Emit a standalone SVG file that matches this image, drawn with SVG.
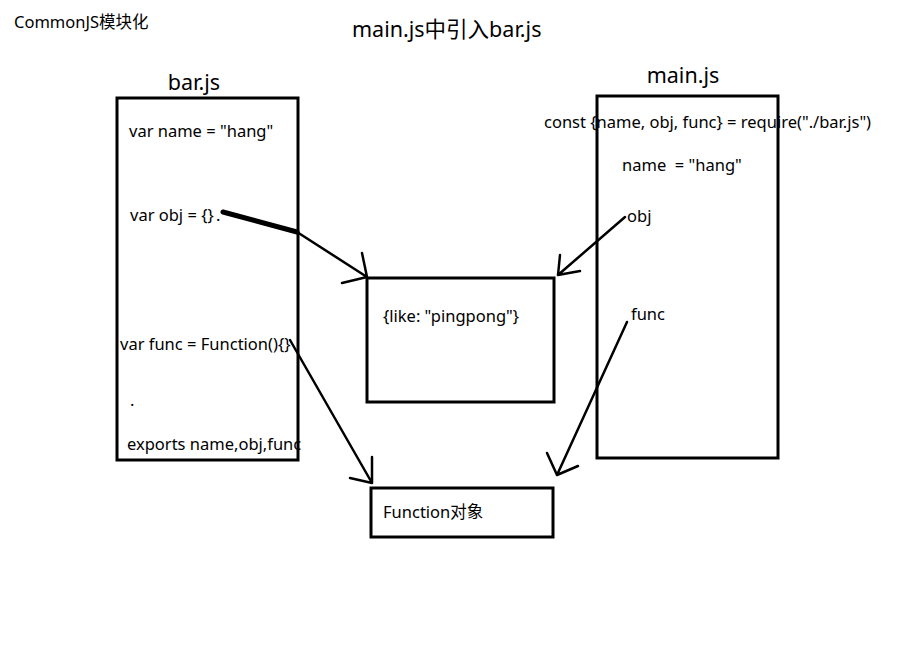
<svg xmlns="http://www.w3.org/2000/svg" width="919" height="658" viewBox="0 0 919 658">
<style>
text{font-family:"Noto Sans","Noto Sans CJK SC",sans-serif;fill:#000;font-size:16.5px;white-space:pre}
.t{font-size:21.5px}
.box{fill:none;stroke:#000;stroke-width:3}
.ln{fill:none;stroke:#000;stroke-width:2.5;stroke-linecap:round;stroke-linejoin:round}
</style>
<rect width="919" height="658" fill="#fff"/>
<text x="14" y="28">CommonJS模块化</text>
<text class="t" x="352" y="37">main.js中引入bar.js</text>
<g id="bar">
<text class="t" x="194" y="90" text-anchor="middle">bar.js</text>
<rect class="box" x="117" y="98" width="181" height="362"/>
<text x="129" y="137">var name = "hang"</text>
<text x="130" y="221">var obj = {}</text>
<text x="216" y="221" font-size="8">.</text>
<text x="120" y="350">var func = Function(){}</text>
<text x="130" y="406" font-size="8">.</text>
<text x="127" y="450">exports name,obj,func</text>
</g>
<g id="main">
<text class="t" x="683" y="83" text-anchor="middle">main.js</text>
<text x="544" y="128">const {name, obj, func} = require("./bar.js")</text>
<text x="622" y="171">name  = "hang"</text>
<text x="627" y="222">obj</text>
<text x="631" y="320">func</text>
<rect class="box" x="597" y="96" width="181" height="362"/>
</g>
<g id="obj">
<rect class="box" x="367" y="278" width="187" height="124"/>
<text x="383" y="322">{like: "pingpong"}</text>
</g>
<g id="func">
<rect class="box" x="371" y="488" width="182" height="49"/>
<text x="383" y="518">Function对象</text>
</g>
<g id="connectors">
<path d="M223 212 L297 232" fill="none" stroke="#000" stroke-width="5" stroke-linecap="round"/>
<path class="ln" d="M297 232 L367 277 M362 253 L367 277 L342 283"/>
<path class="ln" d="M625 217 L558 275 M560 255 L558 275 L580 271"/>
<path class="ln" d="M290 340 L372 483 M372 457 L372 483 L350 478"/>
<path class="ln" d="M627 322 L557 475 M547 453 L557 475 L578 466"/>
</g>
</svg>
